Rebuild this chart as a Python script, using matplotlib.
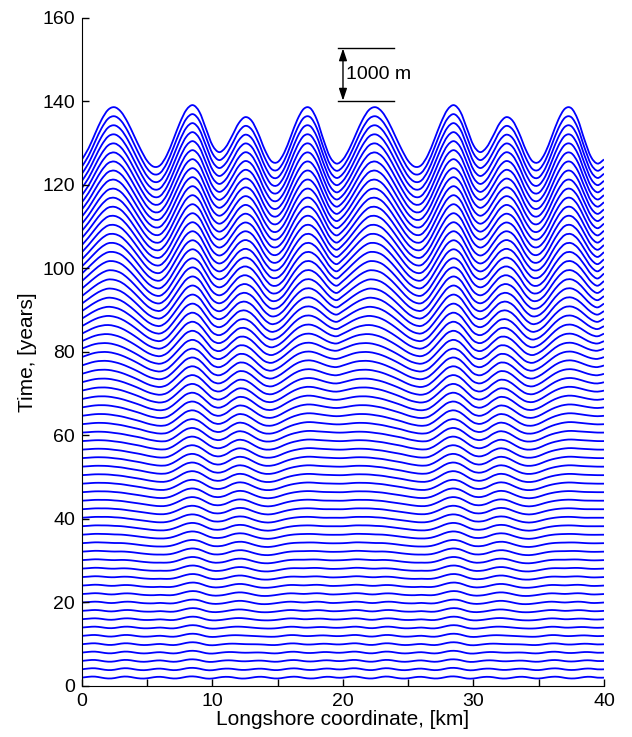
import numpy as np
import matplotlib.pyplot as plt
from matplotlib.path import Path
from matplotlib.patches import PathPatch

plt.rcParams['font.family'] = ['Liberation Sans', 'DejaVu Sans']

# longshore positions of the read profiles, km (pattern repeats every 20 km)
x_km = np.arange(0, 20.01, 0.5)

# shoreline displacement read at a few output times, m
key_years = [2, 20, 40, 60, 80, 100, 132]
eta_2 = [0, 16, 20, 0, -16, -8, 16, 20, 0, -16, -12, 8, 16, 0, -16, -8, 16, 24, 8, -16,
         -16, 4, 16, 8, -12, -16, 0, 16, 12, -8, -16, 0, 16, 16, -4, -16, -8, 12, 16, 0, 0]
eta_20 = [0, 8, 16, 8, -8, -8, 8, 16, 8, -8, -16, -16, -8, -16, -16, 8, 40, 56, 40, 0,
          -24, -24, -8, 16, 32, 24, 0, -24, -32, -24, -8, 8, 16, 8, 0, 8, 16, 8, -8, -8, 0]
eta_40 = [24, 32, 40, 40, 40, 32, 24, 8, -8, -24, -40, -56, -64, -56, -24, 24, 72, 88, 64, 8,
          -40, -48, -24, 24, 48, 40, 0, -40, -64, -64, -40, -8, 16, 32, 40, 40, 32, 24, 24, 24, 24]
eta_60 = [56, 64, 72, 72, 64, 48, 32, 8, -16, -40, -72, -96, -112, -104, -48, 40, 120, 144, 104, 16,
          -64, -88, -48, 32, 80, 64, 0, -72, -112, -112, -80, -24, 24, 56, 80, 88, 80, 72, 64, 56, 56]
eta_80 = [64, 112, 152, 168, 168, 144, 104, 48, -16, -88, -160, -208, -224, -176, -64, 72, 192, 232, 176, 40,
          -96, -136, -80, 32, 120, 120, 48, -72, -176, -208, -160, -72, 32, 120, 168, 176, 144, 88, 40, 24, 64]
eta_100 = [-96, 24, 144, 248, 312, 312, 264, 160, 24, -128, -272, -360, -376, -272, -80, 128, 304, 368, 288, 80,
           -128, -208, -152, 8, 152, 208, 160, 8, -192, -320, -320, -208, -8, 176, 296, 312, 232, 72, -104, -192, -96]
eta_132 = [-470, -260, 20, 290, 480, 530, 440, 240, -20, -280, -500, -610, -580, -390, -90, 230, 480, 570, 440, 120,
           -200, -330, -240, -20, 220, 340, 270, 30, -280, -500, -520, -340, -30, 290, 500, 510, 290, -90, -420, -550, -470]

years = np.arange(2, 133, 2)          # one shoreline every 2 years
m_per_year = 80.0                     # vertical scale: 1000 m = 12.5 years
bar_base = 140.2

key = np.array([eta_2, eta_20, eta_40, eta_60, eta_80, eta_100, eta_132], dtype=float)
key = np.concatenate([key, key[:, 1:]], axis=1)
x_full = np.concatenate([x_km, x_km[1:] + 20])


def smooth_path(x, y):
    # curve through every point (Catmull-Rom drawn as cubic Bezier pieces)
    p = np.column_stack([x, y])
    q = np.vstack([p[0], p, p[-1]])
    verts = [p[0]]
    for i in range(len(p) - 1):
        a, b, c, d = q[i], q[i + 1], q[i + 2], q[i + 3]
        verts += [b + (c - a) / 6, c - (d - b) / 6, c]
    codes = [Path.MOVETO] + [Path.CURVE4] * (len(verts) - 1)
    return Path(verts, codes)


fig = plt.figure(figsize=(6.32, 7.37), dpi=100)
ax = fig.add_axes([0.1297, 0.0692, 0.826, 0.9064])

for t in years:
    eta = np.array([np.interp(t, key_years, key[:, j]) for j in range(key.shape[1])])
    ax.add_patch(PathPatch(smooth_path(x_full, t + eta / m_per_year),
                           fill=False, edgecolor='#0000ff', lw=1.3))

# scale bar
bar_top = bar_base + 1000 / m_per_year
ax.plot([19.6, 23.9], [bar_top, bar_top], color='k', lw=1)
ax.plot([19.6, 23.9], [bar_base, bar_base], color='k', lw=1)
ax.annotate('', xy=(20.0, bar_top), xytext=(20.0, bar_base),
            arrowprops=dict(arrowstyle='<|-|>,head_length=0.6,head_width=0.2', color='k', lw=1,
                            mutation_scale=12, shrinkA=0, shrinkB=0))
ax.text(20.25, (bar_top + bar_base) / 2, '1000 m', fontsize=14, va='center', ha='left')

ax.set_xlim(0, 40)
ax.set_ylim(0, 160)
ax.set_xticks([0, 10, 20, 30, 40])
ax.set_xticks([5, 15, 25, 35], minor=True)
ax.set_yticks(np.arange(0, 161, 20))
ax.tick_params(direction='in', length=5, width=1, labelsize=14, pad=5)
ax.tick_params(which='minor', direction='in', length=5, width=1)
ax.spines['top'].set_visible(False)
ax.spines['right'].set_visible(False)
ax.set_xlabel('Longshore coordinate, [km]', fontsize=15, labelpad=0)
ax.set_ylabel('Time, [years]', fontsize=15, labelpad=4)

fig.savefig('out.png', dpi=100)
